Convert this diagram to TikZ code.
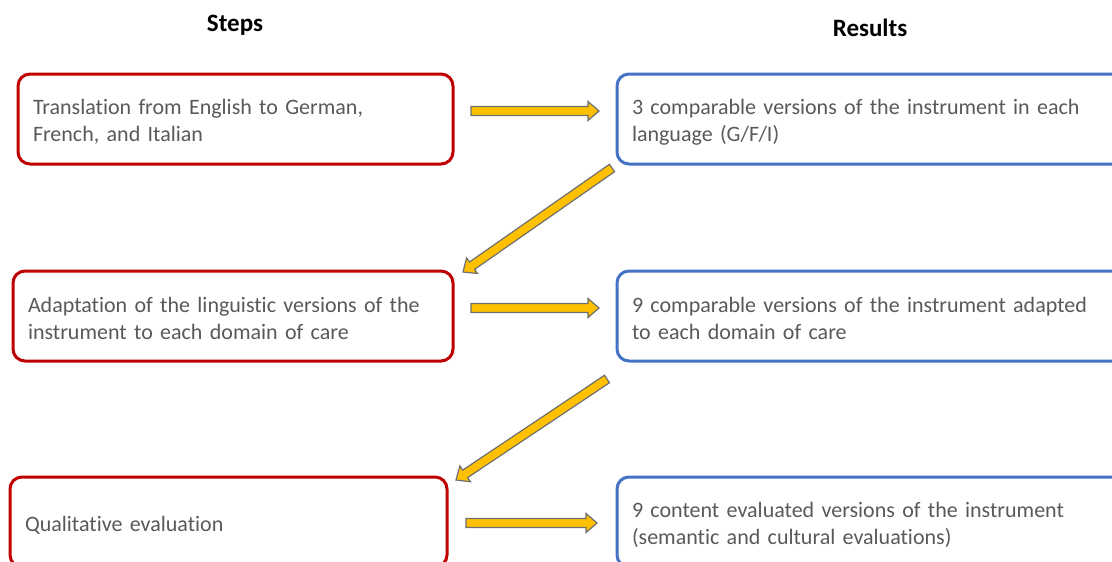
\documentclass[tikz,border=0pt]{standalone}
\usepackage{fontspec}
\setmainfont[Ligatures = NoCommon]{Carlito}
\usepackage{tikz}
\usetikzlibrary{calc}
\usetikzlibrary{positioning}
\definecolor{stepred}{HTML}{C00000}
\definecolor{resblue}{HTML}{4472C4}
\definecolor{txtgray}{HTML}{595959}
\definecolor{arrowgold}{HTML}{FFC000}
\definecolor{arrowedge}{HTML}{6F6F6F}
\tikzset{box/.style = {draw, rounded corners = 12pt, line width = 3pt, outer sep = 0pt, inner xsep = 15pt, anchor = north west, align = left, text = txtgray, minimum height = 90pt, text height = 21pt, font = \fontsize{22}{27}\selectfont}}
\tikzset{stepbox/.style = {box, draw = stepred, text width = #1}}
\tikzset{resbox/.style = {box, draw = resblue, text width = 500pt}}
\tikzset{head/.style = {font = \fontsize{25}{28}\selectfont\bfseries}}
\tikzset{fat/.style = {fill = arrowgold, draw = arrowedge, line width = 1.2pt, line join = miter}}
\newcommand{\fatarrow}[2]{%
  \filldraw [fat] let \p1 = (#1), \p2 = (#2),
    \n1 = {atan2(\y2-\y1, \x2-\x1)},
    \n2 = {veclen(\x2-\x1, \y2-\y1) - 11pt} in
    ($(\p1)+(\n1+90:4.5pt)$) -- ($(\p1)+(\n1:\n2)+(\n1+90:4.5pt)$)
    -- ($(\p1)+(\n1:\n2)+(\n1+90:9.5pt)$) -- (\p2)
    -- ($(\p1)+(\n1:\n2)+(\n1-90:9.5pt)$) -- ($(\p1)+(\n1:\n2)+(\n1-90:4.5pt)$)
    -- ($(\p1)+(\n1-90:4.5pt)$) -- cycle;}

\begin{document}
\begin{tikzpicture}[x = 1pt, y = -1pt]
    \useasboundingbox (0, 0) rectangle (1112, 562);
    \node [head] (steps) at (235, 25) {Steps};
    \node [head] (results) at (870, 28) {Results};

    \node [stepbox = 405pt] (stepa) at (18, 74) {Translation from English to German,\\French, and Italian};
    \node [stepbox = 410pt] (stepb) at (13, 271) {Adaptation of the linguistic versions of the\\instrument to each domain of care};
    \node [stepbox = 407pt] (stepc) at (10, 477) {Qualitative evaluation};

    \node [resbox] (resa) at (617, 74) {3 comparable versions of the instrument in each\\language (G/F/I)};
    \node [resbox] (resb) at (617, 271) {9 comparable versions of the instrument adapted\\to each domain of care};
    \node [resbox] (resc) at (617, 477) {9 content evaluated versions of the instrument\\(semantic and cultural evaluations)};

    % arrow ends
    \coordinate (aa) at ($(stepa.east) + (18, -8)$);
    \coordinate (ab) at ($(resa.west) + (-18, -8)$);
    \coordinate (ba) at ($(stepb.east) + (18, -8)$);
    \coordinate (bb) at ($(resb.west) + (-18, -8)$);
    \coordinate (ca) at ($(stepc.east) + (19, 1)$);
    \coordinate (cb) at ($(resc.west) + (-20, 1)$);
    \coordinate (da) at ($(resa.south west) + (-5, 4)$);
    \coordinate (db) at ($(stepb.north east) + (10, 1)$);
    \coordinate (ea) at ($(resb.south west) + (-10, 18)$);
    \coordinate (eb) at ($(stepc.north east) + (9, 3)$);

    \fatarrow{aa}{ab}
    \fatarrow{ba}{bb}
    \fatarrow{ca}{cb}
    \fatarrow{da}{db}
    \fatarrow{ea}{eb}
\end{tikzpicture}
\end{document}
